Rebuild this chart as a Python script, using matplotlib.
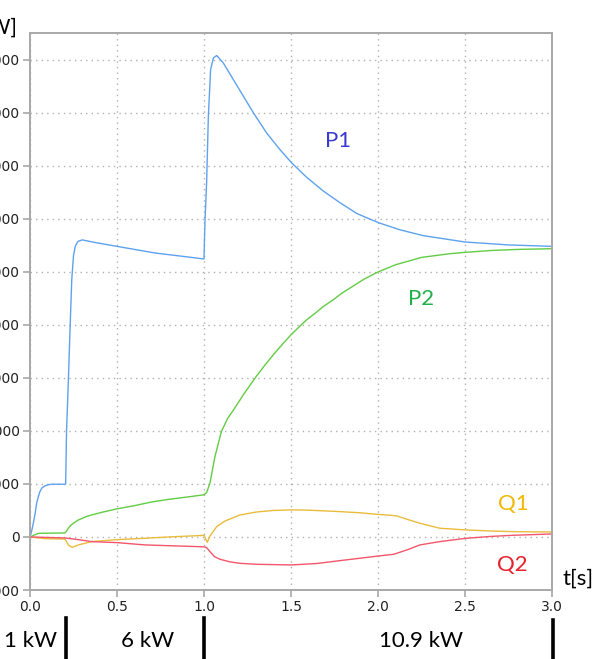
import matplotlib.pyplot as plt
from matplotlib.lines import Line2D

# P1 (blue)
p1_t = [0, 0.01, 0.019, 0.03, 0.038, 0.048, 0.057, 0.07, 0.086, 0.105, 0.125, 0.2, 0.205,
        0.21, 0.22, 0.23, 0.24, 0.25, 0.26, 0.275, 0.3, 0.37, 0.5, 0.72, 0.91, 1.0,
        1.005, 1.015, 1.025, 1.038, 1.054, 1.073, 1.111, 1.169, 1.226, 1.284, 1.36,
        1.437, 1.504, 1.59, 1.686, 1.782, 1.877, 1.94, 2.007, 2.126, 2.26, 2.5, 2.75, 3.0]
p1_w = [0, 120, 258, 450, 636, 760, 855, 930, 962, 985, 994, 994, 1000,
        2000, 2900, 3900, 4850, 5300, 5480, 5570, 5600, 5553, 5478, 5352, 5277, 5240,
        5900, 6670, 7930, 8810, 9030, 9075, 8935, 8620, 8310, 7995, 7615,
        7300, 7050, 6780, 6520, 6300, 6100, 6010, 5920, 5790, 5680, 5560, 5505, 5478]

# P2 (green)
p2_t = [0, 0.048, 0.2, 0.21, 0.22, 0.235, 0.249, 0.278, 0.32, 0.354, 0.42, 0.5, 0.6,
        0.7, 0.8, 0.92, 1.0, 1.015, 1.034, 1.063, 1.1, 1.135, 1.17, 1.23, 1.3, 1.35,
        1.4, 1.45, 1.5, 1.55, 1.59, 1.64, 1.686, 1.743, 1.79, 1.839, 1.92, 2.0, 2.1,
        2.25, 2.414, 2.5, 2.65, 2.8, 3.0]
p2_w = [0, 69, 75, 110, 164, 220, 258, 320, 380, 415, 470, 530, 590,
        660, 710, 760, 795, 836, 1013, 1515, 1987, 2230, 2396, 2700, 3025, 3240,
        3440, 3630, 3811, 3970, 4094, 4220, 4345, 4472, 4590, 4692, 4860, 4995, 5130,
        5270, 5340, 5365, 5400, 5420, 5434]

# Q1 (yellow)
q1_t = [0, 0.086, 0.2, 0.21, 0.22, 0.24, 0.26, 0.278, 0.354, 0.5, 0.66, 0.8, 1.0,
        1.01, 1.019, 1.035, 1.046, 1.073, 1.12, 1.207, 1.3, 1.4, 1.5, 1.6, 1.78, 1.9,
        2.0, 2.07, 2.108, 2.17, 2.24, 2.356, 2.506, 2.65, 2.777, 2.9, 3.0]
q1_w = [0, -32, -40, -90, -150, -195, -175, -150, -88, -50, -25, 0, 30,
        -40, -100, 20, 70, 195, 300, 415, 470, 500, 510, 505, 478, 455,
        425, 409, 396, 330, 258, 164, 132, 112, 100, 96, 94]

# Q2 (red)
q2_t = [0, 0.2, 0.278, 0.354, 0.5, 0.66, 0.8, 1.0, 1.015, 1.034, 1.06, 1.092, 1.15,
        1.207, 1.3, 1.5, 1.65, 1.78, 1.9, 2.0, 2.09, 2.17, 2.24, 2.35, 2.506, 2.65,
        2.777, 2.9, 3.0]
q2_w = [0, -19, -50, -88, -107, -150, -165, -186, -200, -277, -370, -421, -470,
        -497, -515, -528, -500, -447, -400, -360, -327, -240, -151, -90, -25, 10,
        32, 45, 57]

x_ticks = [0.0, 0.5, 1.0, 1.5, 2.0, 2.5, 3.0]
y_ticks = [-1000, 0, 1000, 2000, 3000, 4000, 5000, 6000, 7000, 8000, 9000]
load_labels = ["1 kW", "6 kW", "10.9 kW"]

W, H = 597, 659


def px(x, y):
    return x / W, 1 - y / H


fig = plt.figure(figsize=(W / 100, H / 100), dpi=100)
ax = fig.add_axes([30 / W, 1 - 590 / H, (552 - 30) / W, (590 - 33) / H])

ax.plot(p1_t, p1_w, color="#5ea2ee", lw=1.0)
ax.plot(p2_t, p2_w, color="#62cc44", lw=1.0)
ax.plot(q1_t, q1_w, color="#e9bb3c", lw=1.0)
ax.plot(q2_t, q2_w, color="#f2566a", lw=1.0)

ax.set_xlim(0, 3.0)
ax.set_ylim(-1000, 9500)
ax.set_xticks(x_ticks)
ax.set_xticklabels([f"{v:.1f}" for v in x_ticks])
ax.set_yticks(y_ticks)
ax.set_yticklabels([str(v) for v in y_ticks])
ax.grid(True, linestyle=(0, (1, 3)), color="#b0b0b0", lw=1.0)
for s in ax.spines.values():
    s.set_color("#a8a8a8")
    s.set_linewidth(1.4)
ax.tick_params(colors="#a8a8a8", labelcolor="#222222", labelsize=10, length=5,
               width=1.2, pad=2.5)

lab = dict(family="Lato", fontsize=16, ha="center", va="center")
ax.text(1.77, 7472, "P1", color="#3a3ad0", **lab)
ax.text(2.247, 4490, "P2", color="#22b04a", **lab)
ax.text(2.776, 623, "Q1", color="#f2b800", **lab)
ax.text(2.77, -528, "Q2", color="#e8202c", **lab)

fig.text(*px(578, 579), "t[s]", family="Lato", fontsize=16, ha="center", va="center")
fig.text(*px(17, 28), "P[W]", family="Lato", fontsize=15, ha="right", va="center")

for x, txt in zip([30, 148, 421], load_labels):
    fig.text(*px(x, 641), txt, family="Lato", fontsize=16, ha="center", va="center")
for x, y0 in [(66, 618), (204, 618), (553, 620)]:
    fig.add_artist(Line2D([x / W, x / W], [1 - y0 / H, 0], color="black", lw=2.6,
                          transform=fig.transFigure))

fig.savefig("out.png", dpi=100)
